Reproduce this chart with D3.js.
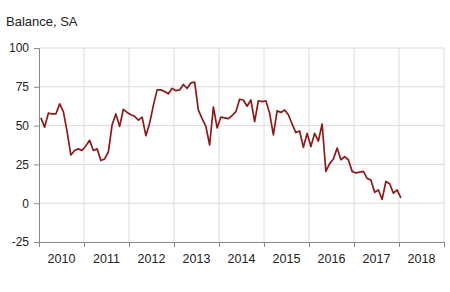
<!DOCTYPE html>
<html>
<head>
<meta charset="utf-8">
<script src="https://cdn.jsdelivr.net/npm/d3@7"></script>
<style>
  body { margin: 0; background: #fff; }
  text { font-family: "Liberation Sans", Arial, sans-serif; fill: #222; }
</style>
</head>
<body>
<div id="chart"></div>
<script>
// year labels on the x axis
const years = [2010, 2011, 2012, 2013, 2014, 2015, 2016, 2017, 2018];
const yTicks = [-25, 0, 25, 50, 75, 100];

// monthly balance, Jan 2010 .. Jan 2018
const balance = [
    55, 49, 58, 57.5, 57.5, 64, 59, 46, 31, 34, 35, 34,          // 2010
    37, 40.5, 34, 35, 27.5, 28.5, 33, 50.5, 57.5, 49.5, 60.5, 58.5, // 2011
    57, 56, 53.5, 55.5, 43.5, 51.5, 63, 73, 73, 72, 70.5, 74,     // 2012
    72.5, 73, 76.5, 74, 77.5, 78, 60, 54.5, 49.5, 37.5, 62, 48.5, // 2013
    55.5, 55, 54.5, 56.5, 59, 67, 66.5, 62.5, 66.5, 52.5, 66, 65.5, // 2014
    66, 58, 44, 59.5, 58.5, 60, 57, 51, 45.5, 46.5, 36, 45,       // 2015
    36.5, 45, 40, 51, 20.5, 25.5, 28.5, 35.5, 28, 30, 28, 20.5,   // 2016
    19.5, 20, 20.5, 16, 15, 7, 8.5, 2.5, 14, 12.5, 6.5, 8.5,      // 2017
    3.5                                                           // 2018
];

const W = 450, H = 292;
const margin = {top: 48, right: 6, bottom: 50, left: 39};

const svg = d3.select("#chart").append("svg")
    .attr("width", W).attr("height", H);

// months since Jan 2010
const x = d3.scaleLinear().domain([0, years.length * 12]).range([margin.left, W - margin.right]);
const y = d3.scaleLinear().domain([-25, 100]).range([H - margin.bottom, margin.top]);

// grid
svg.append("g").selectAll("line.h").data(yTicks.filter(d => d > -25)).join("line")
    .attr("x1", margin.left).attr("x2", W - margin.right)
    .attr("y1", d => y(d)).attr("y2", d => y(d))
    .attr("stroke", "#dcdcdc").attr("stroke-width", 1);
svg.append("g").selectAll("line.v").data(d3.range(1, years.length + 1)).join("line")
    .attr("x1", d => x(d * 12)).attr("x2", d => x(d * 12))
    .attr("y1", y(100)).attr("y2", y(-25))
    .attr("stroke", "#dcdcdc").attr("stroke-width", 1);

// y axis (plain hyphen for negatives, as in the original)
const yAxis = svg.append("g")
    .attr("transform", `translate(${margin.left},0)`)
    .call(d3.axisLeft(y).tickValues(yTicks).tickSize(5).tickPadding(5)
        .tickFormat(d => String(d)));
yAxis.select(".domain").attr("stroke", "#888");
yAxis.selectAll(".tick line").attr("stroke", "#888");
yAxis.selectAll("text").style("font-size", "12px").attr("fill", "#222");

// x axis: tick marks at year boundaries, labels mid-year
const xAxis = svg.append("g")
    .attr("transform", `translate(0,${y(-25)})`)
    .call(d3.axisBottom(x).tickValues(d3.range(0, years.length + 1).map(d => d * 12))
        .tickSize(5).tickFormat(""));
xAxis.select(".domain").attr("stroke", "#888");
xAxis.selectAll(".tick line").attr("stroke", "#888");

svg.append("g").selectAll("text").data(years).join("text")
    .attr("x", (d, i) => x(i * 12 + 6))
    .attr("y", y(-25) + 21)
    .attr("text-anchor", "middle")
    .style("font-size", "12.5px")
    .text(d => d);

// title
svg.append("text").attr("x", 6).attr("y", 26)
    .style("font-size", "13px").text("Balance, SA");

// series
svg.append("path")
    .datum(balance)
    .attr("fill", "none")
    .attr("stroke", "#8c1a1a")
    .attr("stroke-width", 1.7)
    .attr("stroke-linejoin", "round")
    .attr("d", d3.line()
        .x((d, i) => x(i + 0.5))
        .y(d => y(d)));
</script>
</body>
</html>
